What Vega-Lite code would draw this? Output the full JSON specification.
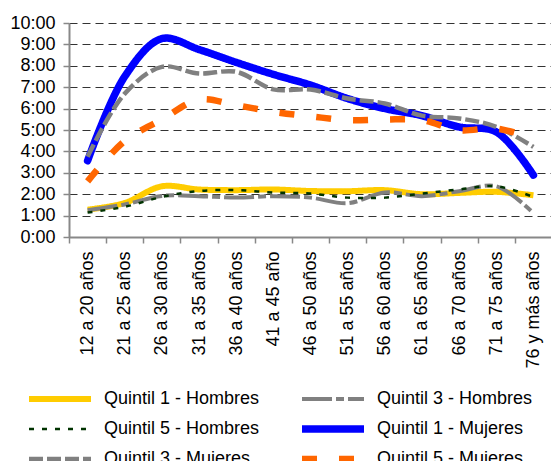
{
  "$schema": "https://vega.github.io/schema/vega-lite/v6.json",
  "autosize": {"type": "none"},
  "width": 483,
  "height": 214,
  "padding": {"left": 69, "top": 23, "right": 0, "bottom": 224},
  "background": "white",
  "config": {"view": {"stroke": null}, "font": "Liberation Sans"},
  "data": {"values": [
    {"edad": "12 a 20 años", "serie": "Quintil 1 - Hombres", "horas": 1.28},
    {"edad": "21 a 25 años", "serie": "Quintil 1 - Hombres", "horas": 1.59},
    {"edad": "26 a 30 años", "serie": "Quintil 1 - Hombres", "horas": 2.37},
    {"edad": "31 a 35 años", "serie": "Quintil 1 - Hombres", "horas": 2.22},
    {"edad": "36 a 40 años", "serie": "Quintil 1 - Hombres", "horas": 2.19},
    {"edad": "41 a 45 año", "serie": "Quintil 1 - Hombres", "horas": 2.22},
    {"edad": "46 a 50 años", "serie": "Quintil 1 - Hombres", "horas": 2.15},
    {"edad": "51 a 55 años", "serie": "Quintil 1 - Hombres", "horas": 2.14},
    {"edad": "56 a 60 años", "serie": "Quintil 1 - Hombres", "horas": 2.19},
    {"edad": "61 a 65 años", "serie": "Quintil 1 - Hombres", "horas": 2.0},
    {"edad": "66 a 70 años", "serie": "Quintil 1 - Hombres", "horas": 2.06},
    {"edad": "71 a 75 años", "serie": "Quintil 1 - Hombres", "horas": 2.11},
    {"edad": "76 y más años", "serie": "Quintil 1 - Hombres", "horas": 1.95},
    {"edad": "12 a 20 años", "serie": "Quintil 3 - Hombres", "horas": 1.25},
    {"edad": "21 a 25 años", "serie": "Quintil 3 - Hombres", "horas": 1.52},
    {"edad": "26 a 30 años", "serie": "Quintil 3 - Hombres", "horas": 1.92},
    {"edad": "31 a 35 años", "serie": "Quintil 3 - Hombres", "horas": 1.91},
    {"edad": "36 a 40 años", "serie": "Quintil 3 - Hombres", "horas": 1.84},
    {"edad": "41 a 45 año", "serie": "Quintil 3 - Hombres", "horas": 1.91},
    {"edad": "46 a 50 años", "serie": "Quintil 3 - Hombres", "horas": 1.84},
    {"edad": "51 a 55 años", "serie": "Quintil 3 - Hombres", "horas": 1.58},
    {"edad": "56 a 60 años", "serie": "Quintil 3 - Hombres", "horas": 2.08},
    {"edad": "61 a 65 años", "serie": "Quintil 3 - Hombres", "horas": 1.91},
    {"edad": "66 a 70 años", "serie": "Quintil 3 - Hombres", "horas": 2.14},
    {"edad": "71 a 75 años", "serie": "Quintil 3 - Hombres", "horas": 2.37},
    {"edad": "76 y más años", "serie": "Quintil 3 - Hombres", "horas": 1.12},
    {"edad": "12 a 20 años", "serie": "Quintil 5 - Hombres", "horas": 1.14},
    {"edad": "21 a 25 años", "serie": "Quintil 5 - Hombres", "horas": 1.41},
    {"edad": "26 a 30 años", "serie": "Quintil 5 - Hombres", "horas": 1.87},
    {"edad": "31 a 35 años", "serie": "Quintil 5 - Hombres", "horas": 2.15},
    {"edad": "36 a 40 años", "serie": "Quintil 5 - Hombres", "horas": 2.19},
    {"edad": "41 a 45 año", "serie": "Quintil 5 - Hombres", "horas": 2.08},
    {"edad": "46 a 50 años", "serie": "Quintil 5 - Hombres", "horas": 2.03},
    {"edad": "51 a 55 años", "serie": "Quintil 5 - Hombres", "horas": 1.84},
    {"edad": "56 a 60 años", "serie": "Quintil 5 - Hombres", "horas": 1.84},
    {"edad": "61 a 65 años", "serie": "Quintil 5 - Hombres", "horas": 2.03},
    {"edad": "66 a 70 años", "serie": "Quintil 5 - Hombres", "horas": 2.22},
    {"edad": "71 a 75 años", "serie": "Quintil 5 - Hombres", "horas": 2.37},
    {"edad": "76 y más años", "serie": "Quintil 5 - Hombres", "horas": 1.87},
    {"edad": "12 a 20 años", "serie": "Quintil 1 - Mujeres", "horas": 3.56},
    {"edad": "21 a 25 años", "serie": "Quintil 1 - Mujeres", "horas": 7.5},
    {"edad": "26 a 30 años", "serie": "Quintil 1 - Mujeres", "horas": 9.27},
    {"edad": "31 a 35 años", "serie": "Quintil 1 - Mujeres", "horas": 8.76},
    {"edad": "36 a 40 años", "serie": "Quintil 1 - Mujeres", "horas": 8.16},
    {"edad": "41 a 45 año", "serie": "Quintil 1 - Mujeres", "horas": 7.6},
    {"edad": "46 a 50 años", "serie": "Quintil 1 - Mujeres", "horas": 7.1},
    {"edad": "51 a 55 años", "serie": "Quintil 1 - Mujeres", "horas": 6.47},
    {"edad": "56 a 60 años", "serie": "Quintil 1 - Mujeres", "horas": 6.0},
    {"edad": "61 a 65 años", "serie": "Quintil 1 - Mujeres", "horas": 5.67},
    {"edad": "66 a 70 años", "serie": "Quintil 1 - Mujeres", "horas": 5.14},
    {"edad": "71 a 75 años", "serie": "Quintil 1 - Mujeres", "horas": 4.91},
    {"edad": "76 y más años", "serie": "Quintil 1 - Mujeres", "horas": 2.89},
    {"edad": "12 a 20 años", "serie": "Quintil 3 - Mujeres", "horas": 3.75},
    {"edad": "21 a 25 años", "serie": "Quintil 3 - Mujeres", "horas": 6.7},
    {"edad": "26 a 30 años", "serie": "Quintil 3 - Mujeres", "horas": 7.95},
    {"edad": "31 a 35 años", "serie": "Quintil 3 - Mujeres", "horas": 7.64},
    {"edad": "36 a 40 años", "serie": "Quintil 3 - Mujeres", "horas": 7.72},
    {"edad": "41 a 45 año", "serie": "Quintil 3 - Mujeres", "horas": 6.9},
    {"edad": "46 a 50 años", "serie": "Quintil 3 - Mujeres", "horas": 6.89},
    {"edad": "51 a 55 años", "serie": "Quintil 3 - Mujeres", "horas": 6.47},
    {"edad": "56 a 60 años", "serie": "Quintil 3 - Mujeres", "horas": 6.24},
    {"edad": "61 a 65 años", "serie": "Quintil 3 - Mujeres", "horas": 5.67},
    {"edad": "66 a 70 años", "serie": "Quintil 3 - Mujeres", "horas": 5.54},
    {"edad": "71 a 75 años", "serie": "Quintil 3 - Mujeres", "horas": 5.15},
    {"edad": "76 y más años", "serie": "Quintil 3 - Mujeres", "horas": 4.21},
    {"edad": "12 a 20 años", "serie": "Quintil 5 - Mujeres", "horas": 2.6},
    {"edad": "21 a 25 años", "serie": "Quintil 5 - Mujeres", "horas": 4.49},
    {"edad": "26 a 30 años", "serie": "Quintil 5 - Mujeres", "horas": 5.49},
    {"edad": "31 a 35 años", "serie": "Quintil 5 - Mujeres", "horas": 6.42},
    {"edad": "36 a 40 años", "serie": "Quintil 5 - Mujeres", "horas": 6.16},
    {"edad": "41 a 45 año", "serie": "Quintil 5 - Mujeres", "horas": 5.85},
    {"edad": "46 a 50 años", "serie": "Quintil 5 - Mujeres", "horas": 5.64},
    {"edad": "51 a 55 años", "serie": "Quintil 5 - Mujeres", "horas": 5.46},
    {"edad": "56 a 60 años", "serie": "Quintil 5 - Mujeres", "horas": 5.49},
    {"edad": "61 a 65 años", "serie": "Quintil 5 - Mujeres", "horas": 5.46},
    {"edad": "66 a 70 años", "serie": "Quintil 5 - Mujeres", "horas": 4.99},
    {"edad": "71 a 75 años", "serie": "Quintil 5 - Mujeres", "horas": 5.07},
    {"edad": "76 y más años", "serie": "Quintil 5 - Mujeres", "horas": 4.6}
  ]},
  "encoding": {
    "x": {
      "field": "edad", "type": "ordinal",
      "sort": ["12 a 20 años", "21 a 25 años", "26 a 30 años", "31 a 35 años", "36 a 40 años", "41 a 45 año", "46 a 50 años", "51 a 55 años", "56 a 60 años", "61 a 65 años", "66 a 70 años", "71 a 75 años", "76 y más años"],
      "scale": {"type": "band", "paddingInner": 0, "paddingOuter": 0},
      "bandPosition": 0.5,
      "axis": {"title": null, "labelAngle": 270, "labelFontSize": 18, "labelColor": "black", "tickBand": "extent", "tickSize": 6, "tickColor": "#888888", "tickWidth": 1.5, "domainColor": "#888888", "domainWidth": 2, "labelPadding": 8, "grid": false, "labelOverlap": false, "labelLimit": 200}
    },
    "y": {
      "field": "horas", "type": "quantitative",
      "scale": {"domain": [0, 10], "nice": false},
      "axis": {"title": null, "values": [0, 1, 2, 3, 4, 5, 6, 7, 8, 9, 10], "labelExpr": "datum.value + ':00'", "labelFontSize": 18, "labelColor": "black", "grid": true, "gridDash": [8, 5], "gridColor": "#333333", "gridWidth": 1, "tickSize": 6, "tickColor": "#888888", "tickWidth": 1.5, "domainColor": "#888888", "domainWidth": 2, "labelPadding": 8}
    },
    "color": {
      "field": "serie", "type": "nominal",
      "scale": {"domain": ["Quintil 1 - Hombres", "Quintil 5 - Hombres", "Quintil 3 - Mujeres", "Quintil 3 - Hombres", "Quintil 1 - Mujeres", "Quintil 5 - Mujeres"], "range": ["#FFCC00", "#003300", "#808080", "#808080", "#0000FF", "#FF6600"]},
      "legend": {"title": null, "orient": "none", "legendX": -44, "legendY": 366, "columns": 2, "symbolType": "stroke", "symbolSize": 3844, "clipHeight": 20, "labelFontSize": 18, "labelColor": "black", "labelOffset": 9, "columnPadding": 38, "rowPadding": 10, "labelLimit": 300, "padding": 0}
    },
    "strokeDash": {
      "field": "serie", "type": "nominal",
      "scale": {"domain": ["Quintil 1 - Hombres", "Quintil 5 - Hombres", "Quintil 3 - Mujeres", "Quintil 3 - Hombres", "Quintil 1 - Mujeres", "Quintil 5 - Mujeres"], "range": [[1, 0], [5, 8], [14, 4], [30, 4, 8, 4], [1, 0], [15, 22]]},
      "legend": {"title": null, "orient": "none", "legendX": -44, "legendY": 366, "columns": 2, "symbolType": "stroke", "symbolSize": 3844, "clipHeight": 20, "labelFontSize": 18, "labelColor": "black", "labelOffset": 9, "columnPadding": 38, "rowPadding": 10, "labelLimit": 300, "padding": 0}
    },
    "strokeWidth": {
      "field": "serie", "type": "nominal",
      "scale": {"type": "ordinal", "domain": ["Quintil 1 - Hombres", "Quintil 5 - Hombres", "Quintil 3 - Mujeres", "Quintil 3 - Hombres", "Quintil 1 - Mujeres", "Quintil 5 - Mujeres"], "range": [6, 2.5, 4.5, 4, 7.5, 6.5]},
      "legend": {"title": null, "orient": "none", "legendX": -44, "legendY": 366, "columns": 2, "symbolType": "stroke", "symbolSize": 3844, "clipHeight": 20, "labelFontSize": 18, "labelColor": "black", "labelOffset": 9, "columnPadding": 38, "rowPadding": 10, "labelLimit": 300, "padding": 0}
    }
  },
  "layer": [
    {
      "transform": [{"filter": {"field": "serie", "oneOf": ["Quintil 1 - Hombres", "Quintil 3 - Hombres", "Quintil 5 - Hombres"]}}],
      "mark": {"type": "line", "interpolate": "catmull-rom"}
    },
    {
      "transform": [{"filter": {"field": "serie", "equal": "Quintil 1 - Mujeres"}}],
      "mark": {"type": "line", "interpolate": "catmull-rom", "strokeCap": "round"}
    },
    {
      "transform": [{"filter": {"field": "serie", "oneOf": ["Quintil 3 - Mujeres", "Quintil 5 - Mujeres"]}}],
      "mark": {"type": "line", "interpolate": "catmull-rom"}
    }
  ]
}
